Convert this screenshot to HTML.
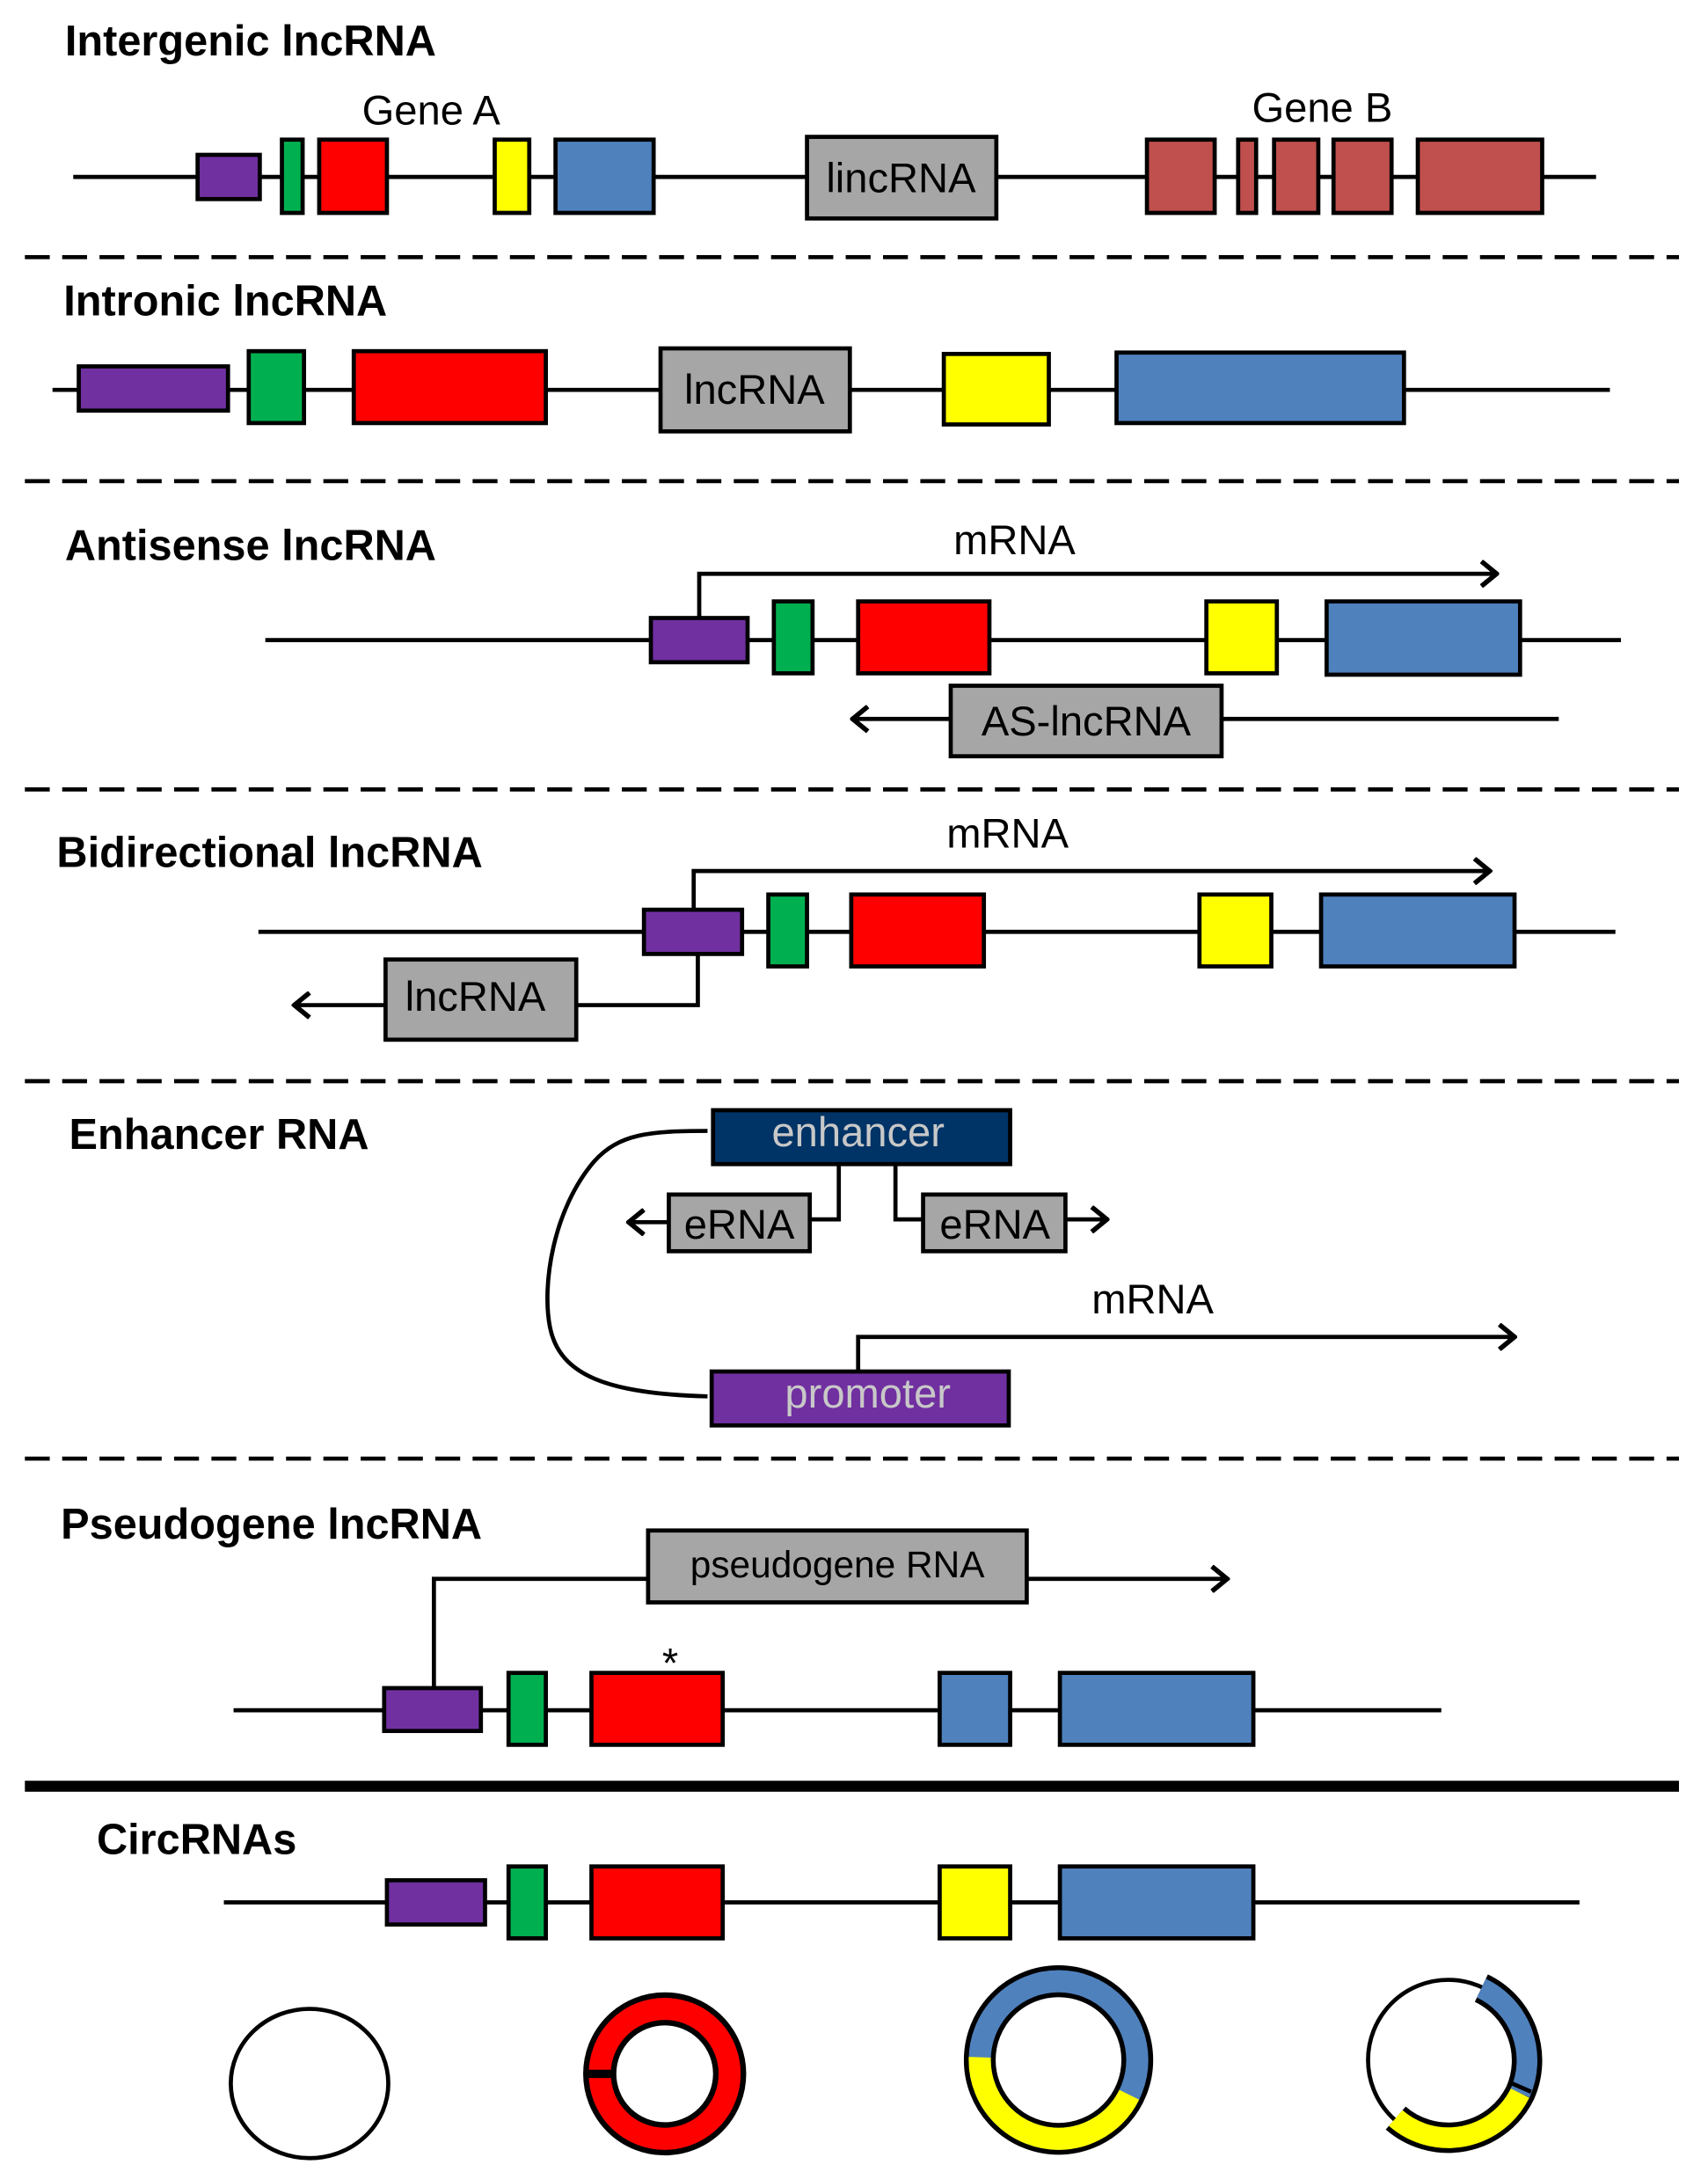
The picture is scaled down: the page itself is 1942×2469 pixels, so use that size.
<!DOCTYPE html>
<html><head><meta charset="utf-8"><style>
html,body{margin:0;padding:0;background:#fff;}
svg{display:block;}
text{font-family:"Liberation Sans","DejaVu Sans",sans-serif;}
.t{font-weight:bold;font-size:31px;fill:#000;}
.l{font-size:30px;fill:#000;}
</style></head><body>
<svg width="1942" height="2469" viewBox="0 0 1236 1571" preserveAspectRatio="none" xmlns="http://www.w3.org/2000/svg">
<defs>
<marker id="ar2" markerWidth="14" markerHeight="20" refX="12" refY="10" orient="auto" markerUnits="userSpaceOnUse">
<path d="M1,1 L12,10 L1,19" fill="none" stroke="#000" stroke-width="3.5"/>
</marker>
</defs>
<g stroke="#000" stroke-width="3">
<line x1="53" y1="128" x2="1155" y2="128"/>
<rect x="143" y="112" width="45" height="32" fill="#7030a0"/>
<rect x="204" y="101" width="15" height="53" fill="#00b050"/>
<rect x="231" y="101" width="49" height="53" fill="#ff0000"/>
<rect x="358" y="101" width="25" height="53" fill="#ffff00"/>
<rect x="402" y="101" width="71" height="53" fill="#4f81bd"/>
<rect x="584" y="99" width="137" height="59" fill="#a6a6a6"/>
<rect x="830" y="101" width="49" height="53" fill="#c0504d"/>
<rect x="896" y="101" width="13" height="53" fill="#c0504d"/>
<rect x="922" y="101" width="32" height="53" fill="#c0504d"/>
<rect x="965" y="101" width="42" height="53" fill="#c0504d"/>
<rect x="1026" y="101" width="90" height="53" fill="#c0504d"/>
<line x1="18" y1="186" x2="1215" y2="186" stroke-dasharray="18,9"/>
<line x1="38" y1="282" x2="1165" y2="282"/>
<rect x="57" y="265" width="108" height="32" fill="#7030a0"/>
<rect x="180" y="254" width="40" height="52" fill="#00b050"/>
<rect x="256" y="254" width="139" height="52" fill="#ff0000"/>
<rect x="478" y="252" width="137" height="60" fill="#a6a6a6"/>
<rect x="683" y="256" width="76" height="51" fill="#ffff00"/>
<rect x="808" y="255" width="208" height="51" fill="#4f81bd"/>
<line x1="18" y1="348" x2="1215" y2="348" stroke-dasharray="18,9"/>
<line x1="192" y1="463" x2="1173" y2="463"/>
<polyline points="506,447 506,415 1083,415" fill="none" marker-end="url(#ar2)"/>
<rect x="471" y="447" width="70" height="32" fill="#7030a0"/>
<rect x="560" y="435" width="28" height="52" fill="#00b050"/>
<rect x="621" y="435" width="95" height="52" fill="#ff0000"/>
<rect x="873" y="435" width="51" height="52" fill="#ffff00"/>
<rect x="960" y="435" width="140" height="53" fill="#4f81bd"/>
<line x1="1128" y1="520" x2="617" y2="520" marker-end="url(#ar2)"/>
<rect x="688" y="496" width="196" height="51" fill="#a6a6a6"/>
<line x1="18" y1="571" x2="1215" y2="571" stroke-dasharray="18,9"/>
<line x1="187" y1="674" x2="1169" y2="674"/>
<polyline points="502,658 502,630 1078,630" fill="none" marker-end="url(#ar2)"/>
<polyline points="505,690 505,727 213,727" fill="none" marker-end="url(#ar2)"/>
<rect x="466" y="658" width="71" height="32" fill="#7030a0"/>
<rect x="556" y="647" width="28" height="52" fill="#00b050"/>
<rect x="616" y="647" width="96" height="52" fill="#ff0000"/>
<rect x="868" y="647" width="52" height="52" fill="#ffff00"/>
<rect x="956" y="647" width="140" height="52" fill="#4f81bd"/>
<rect x="279" y="694" width="138" height="58" fill="#a6a6a6"/>
<line x1="18" y1="782" x2="1215" y2="782" stroke-dasharray="18,9"/>
<path d="M512,818 C470,818 448,820 430,840 C400,875 392,930 398,960 C405,995 440,1008 512,1010" fill="none"/>
<polyline points="607,842 607,882 586,882" fill="none"/>
<line x1="484" y1="884" x2="455" y2="884" marker-end="url(#ar2)"/>
<polyline points="648,842 648,882 668,882" fill="none"/>
<line x1="771" y1="882" x2="801" y2="882" marker-end="url(#ar2)"/>
<polyline points="621,992 621,967 1096,967" fill="none" marker-end="url(#ar2)"/>
<rect x="516" y="803" width="215" height="39" fill="#003366"/>
<rect x="484" y="864" width="102" height="41" fill="#a6a6a6"/>
<rect x="668" y="864" width="103" height="41" fill="#a6a6a6"/>
<rect x="515" y="992" width="215" height="39" fill="#7030a0"/>
<line x1="18" y1="1055" x2="1215" y2="1055" stroke-dasharray="18,9"/>
<line x1="169" y1="1237" x2="1043" y2="1237"/>
<polyline points="314,1221 314,1142 888,1142" fill="none" marker-end="url(#ar2)"/>
<rect x="278" y="1221" width="70" height="31" fill="#7030a0"/>
<rect x="368" y="1210" width="27" height="52" fill="#00b050"/>
<rect x="428" y="1210" width="95" height="52" fill="#ff0000"/>
<rect x="680" y="1210" width="51" height="52" fill="#4f81bd"/>
<rect x="767" y="1210" width="140" height="52" fill="#4f81bd"/>
<rect x="469" y="1107" width="274" height="52" fill="#a6a6a6"/>
<line x1="18" y1="1292" x2="1215" y2="1292" stroke-width="8"/>
<line x1="162" y1="1376" x2="1143" y2="1376"/>
<rect x="280" y="1360" width="71" height="32" fill="#7030a0"/>
<rect x="368" y="1350" width="27" height="52" fill="#00b050"/>
<rect x="428" y="1350" width="95" height="52" fill="#ff0000"/>
<rect x="680" y="1350" width="51" height="52" fill="#ffff00"/>
<rect x="767" y="1350" width="140" height="52" fill="#4f81bd"/>
<ellipse cx="224" cy="1507" rx="57" ry="54" fill="none"/>
<circle cx="481" cy="1500" r="47" fill="none" stroke="#000" stroke-width="24"/>
<circle cx="481" cy="1500" r="47" fill="none" stroke="#ff0000" stroke-width="16"/>
<line x1="424" y1="1500" x2="443" y2="1500" stroke-width="6"/>
<circle cx="766" cy="1490" r="57" fill="none" stroke="#000" stroke-width="23"/>
<circle cx="766" cy="1490" r="57" fill="none" stroke="#4f81bd" stroke-width="16"/>
<circle cx="766" cy="1490" r="57" fill="none" stroke="#ffff00" stroke-width="16" stroke-dasharray="0 26 155 200"/>
<circle cx="1048" cy="1490" r="58" fill="none" stroke-width="3"/>
<path d="M1072,1438 A58,58 0 0 1 1100,1514 A58,58 0 0 1 1010,1532" fill="none" stroke="#000" stroke-width="22"/>
<path d="M1072,1438 A58,58 0 0 1 1100,1514" fill="none" stroke="#4f81bd" stroke-width="15"/>
<path d="M1100,1514 A58,58 0 0 1 1010,1532" fill="none" stroke="#ffff00" stroke-width="15"/>
<line x1="1092" y1="1506" x2="1108" y2="1513" stroke-width="3"/>
</g>
<text class="t" x="47" y="40">Intergenic lncRNA</text>
<text class="l" x="262" y="90">Gene A</text>
<text class="l" x="906" y="88">Gene B</text>
<text class="l" x="652" y="139" text-anchor="middle">lincRNA</text>
<text class="t" x="46" y="228">Intronic lncRNA</text>
<text class="l" x="546" y="292" text-anchor="middle">lncRNA</text>
<text class="t" x="47" y="405">Antisense lncRNA</text>
<text class="l" x="690" y="401">mRNA</text>
<text class="l" x="786" y="532" text-anchor="middle">AS-lncRNA</text>
<text class="t" x="41" y="627">Bidirectional lncRNA</text>
<text class="l" x="685" y="613">mRNA</text>
<text class="l" x="344" y="731" text-anchor="middle">lncRNA</text>
<text class="t" x="50" y="831">Enhancer RNA</text>
<text class="l" x="621" y="829" text-anchor="middle" style="fill:#c8c8c8">enhancer</text>
<text class="l" x="535" y="896" text-anchor="middle">eRNA</text>
<text class="l" x="720" y="896" text-anchor="middle">eRNA</text>
<text class="l" x="790" y="950">mRNA</text>
<text class="l" x="628" y="1018" text-anchor="middle" style="fill:#c8c8c8">promoter</text>
<text class="t" x="44" y="1113">Pseudogene lncRNA</text>
<text class="l" x="606" y="1141" text-anchor="middle" style="font-size:27px">pseudogene RNA</text>
<text class="l" x="485" y="1213" text-anchor="middle">*</text>
<text class="t" x="70" y="1341">CircRNAs</text>
</svg>
</body></html>
